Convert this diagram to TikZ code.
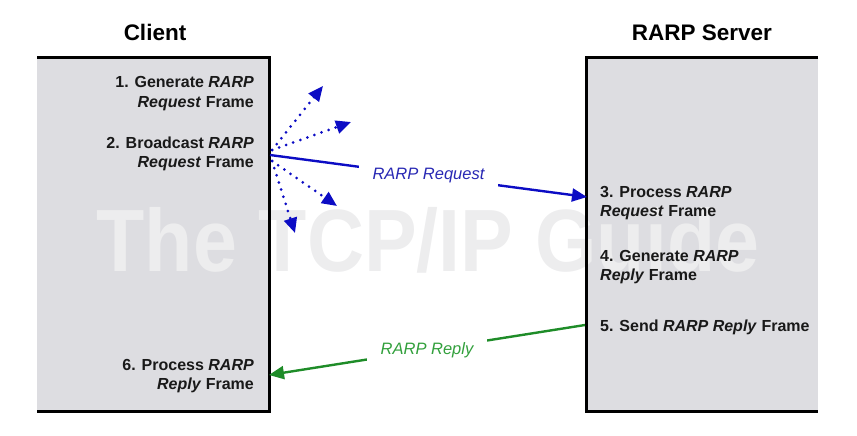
\documentclass[tikz,border=0pt]{standalone}
\usepackage{fontspec}
\setmainfont{Liberation Sans}
\usetikzlibrary{arrows.meta}
\definecolor{boxgray}{RGB}{221,221,225}
\definecolor{wmark}{RGB}{237,237,238}
\definecolor{reqblue}{RGB}{12,12,196}
\definecolor{reqtext}{RGB}{40,40,180}
\definecolor{repgreen}{RGB}{30,140,40}
\definecolor{reptext}{RGB}{50,160,60}
\definecolor{txt}{RGB}{25,25,25}
\tikzset{
  stepl/.style={font=\fontsize{16}{19}\selectfont\bfseries, text=txt, inner sep=0pt},
  stepr/.style={stepl, anchor=base east},
  stepleft/.style={stepl, anchor=base west},
  title/.style={font=\fontsize{22.5}{26}\selectfont\bfseries, text=black, inner sep=0pt, anchor=base},
  border/.style={line width=3pt, black},
  tip/.style={-{Triangle[length=15pt,width=13pt]}},
  solidarrow/.style={tip, line width=2.4pt},
  dotarrow/.style={tip, line width=3pt, reqblue, line cap=round, dash pattern=on 0pt off 7.5pt},
  msglabel/.style={font=\fontsize{16.5}{19}\selectfont\itshape, fill=white, inner xsep=14pt, inner ysep=6pt}
}
\begin{document}
\begin{tikzpicture}[x=1pt,y=-1pt]
\useasboundingbox (0,0) rectangle (857,436);
% boxes
\fill[boxgray] (37,58) rectangle (269,411);
\fill[boxgray] (586,58) rectangle (818,411);
% watermark
\node[font=\fontsize{79}{90}\selectfont\bfseries, text=wmark, inner sep=0pt, yscale=1.12] (wm) at (428,240) {The TCP/IP Guide};
% borders
\draw[border] (37,58) -- (269,58) -- (269,411) -- (37,411);
\draw[border] (818,58) -- (586,58) -- (586,411) -- (818,411);
% titles
\node[title] (client) at (155,41) {Client};
\node[title] (server) at (702,41) {RARP Server};
% client steps
\node[stepr] (s1a) at (254,88) {1. Generate \textit{RARP}};
\node[stepr] (s1b) at (254,107) {\textit{Request} Frame};
\node[stepr] (s2a) at (254,148.5) {2. Broadcast \textit{RARP}};
\node[stepr] (s2b) at (254,167.5) {\textit{Request} Frame};
\node[stepr] (s6a) at (254,370) {6. Process \textit{RARP}};
\node[stepr] (s6b) at (254,389) {\textit{Reply} Frame};
% server steps
\node[stepleft] (s3a) at (600,197) {3. Process \textit{RARP}};
\node[stepleft] (s3b) at (600,216.5) {\textit{Request} Frame};
\node[stepleft] (s4a) at (600,261) {4. Generate \textit{RARP}};
\node[stepleft] (s4b) at (600,280) {\textit{Reply} Frame};
\node[stepleft] (s5) at (600,331) {5. Send \textit{RARP Reply} Frame};
% connector end points
\coordinate (reqsrc) at (270,155);
\coordinate (reqdst) at (587,197);
\coordinate (repsrc) at (585,325);
\coordinate (repdst) at (269,375);
\coordinate (bup) at (272,150);
\coordinate (bdn) at (272,161);
\coordinate (b1) at (323,86);
\coordinate (b2) at (351,122);
\coordinate (b3) at (337,206);
\coordinate (b4) at (295,233);
% broadcast dotted arrows
\draw[dotarrow] (bup) -- (b1);
\draw[dotarrow] (bup) -- (b2);
\draw[dotarrow] (bdn) -- (b3);
\draw[dotarrow] (bdn) -- (b4);
% request and reply
\draw[solidarrow, reqblue] (reqsrc) -- node[msglabel, text=reqtext] (reqlab) {RARP Request} (reqdst);
\draw[solidarrow, repgreen] (repsrc) -- node[msglabel, text=reptext] (replab) {RARP Reply} (repdst);
\end{tikzpicture}
\end{document}
